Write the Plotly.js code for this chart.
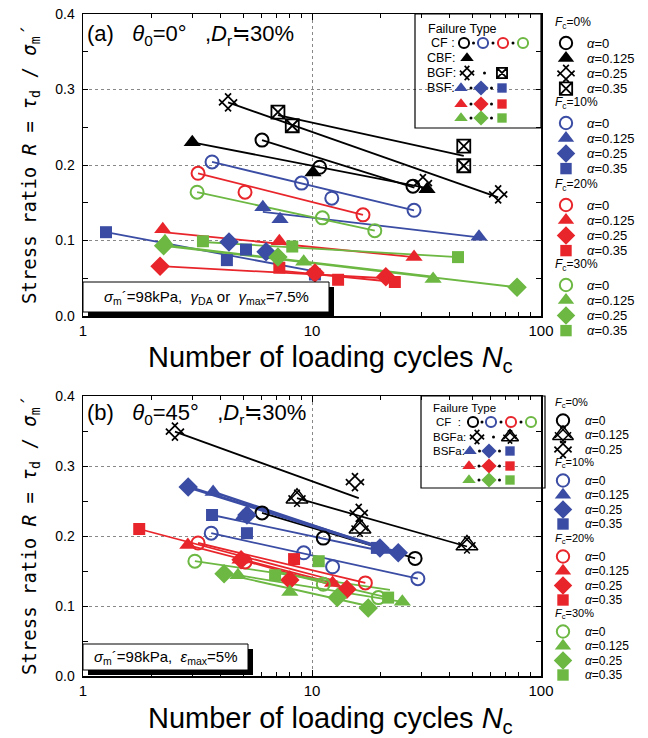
<!DOCTYPE html>
<html><head><meta charset="utf-8">
<script src="https://cdn.plot.ly/plotly-3.0.1.min.js"></script>
<style>html,body{margin:0;padding:0;background:#fff}#chart{width:648px;height:738px}</style>
</head><body><div id="chart"></div>
<script>
// ================= DATA =================
// Panel (a): theta0 = 0 deg. N = number of loading cycles, R = stress ratio
// Fc = 0 %
const aF0a0N = [6.05, 10.8, 27.6],  aF0a0R = [0.233, 0.197, 0.172];
const aF0a0FitN = [6.05, 28],       aF0a0FitR = [0.233, 0.170];
const aF0a1N = [3.0, 10.1, 31.8],   aF0a1R = [0.230, 0.190, 0.168];
const aF0a1FitN = [3.0, 31],        aF0a1FitR = [0.230, 0.170];
const aF0a2N = [4.3, 30.5, 65],     aF0a2R = [0.283, 0.176, 0.161];
const aF0a2FitN = [4.3, 65],        aF0a2FitR = [0.283, 0.157];
const aF0a3N = [7.1, 8.2, 46, 46],  aF0a3R = [0.270, 0.252, 0.225, 0.199];
const aF0a3FitN = [7.1, 46],        aF0a3FitR = [0.266, 0.212];
// Fc = 10 %
const aF10a0N = [3.66, 9.0, 12.2, 27.9], aF10a0R = [0.204, 0.176, 0.156, 0.140];
const aF10a0FitN = [3.66, 27.9],         aF10a0FitR = [0.204, 0.140];
const aF10a1N = [6.1, 7.25, 53.6],       aF10a1R = [0.144, 0.128, 0.105];
const aF10a1FitN = [6.1, 53.6],          aF10a1FitR = [0.138, 0.104];
const aF10a2N = [4.34, 6.3],             aF10a2R = [0.098, 0.085];
const aF10a3N = [1.26, 4.25, 5.15, 10.3], aF10a3R = [0.111, 0.074, 0.088, 0.055];
const aF10a3FitN = [1.26, 10.3],         aF10a3FitR = [0.111, 0.059];
// Fc = 20 %
const aF20a0N = [3.18, 5.1, 16.7],  aF20a0R = [0.189, 0.164, 0.134];
const aF20a0FitN = [3.18, 16.7],    aF20a0FitR = [0.189, 0.134];
const aF20a1N = [2.23, 7.2, 27.9],  aF20a1R = [0.115, 0.099, 0.078];
const aF20a1FitN = [2.23, 27.9],    aF20a1FitR = [0.111, 0.078];
const aF20a2N = [2.17, 10.3, 21],   aF20a2R = [0.066, 0.057, 0.052];
const aF20a2FitN = [2.17, 21],      aF20a2FitR = [0.066, 0.050];
const aF20a3N = [7.2, 13, 23],      aF20a3R = [0.064, 0.048, 0.045];
const aF20a3FitN = [7.2, 23],       aF20a3FitR = [0.060, 0.045];
// Fc = 30 %
const aF30a0N = [3.15, 11.1, 18.8], aF30a0R = [0.164, 0.130, 0.113];
const aF30a0FitN = [3.15, 18.8],    aF30a0FitR = [0.164, 0.113];
const aF30a1N = [2.28, 9.2, 33.8],  aF30a1R = [0.099, 0.072, 0.049];
const aF30a1FitN = [2.28, 33.8],    aF30a1FitR = [0.094, 0.052];
const aF30a2N = [2.25, 7.1, 78.6],  aF30a2R = [0.093, 0.078, 0.038];
const aF30a2FitN = [2.25, 78.6],    aF30a2FitR = [0.093, 0.038];
const aF30a3N = [3.34, 8.2, 43.4],  aF30a3R = [0.099, 0.092, 0.078];
const aF30a3FitN = [3.34, 43.4],    aF30a3FitR = [0.098, 0.078];

// Panel (b): theta0 = 45 deg
// Fc = 0 %
const bF0a0N = [6.05, 11.2, 28.2],  bF0a0R = [0.233, 0.197, 0.168];
const bF0a0FitN = [6.05, 28.2],     bF0a0FitR = [0.233, 0.168];
const bF0a1N = [8.6, 16.2, 47.5],   bF0a1R = [0.254, 0.211, 0.187];
const bF0a1FitN = [8.6, 47.5],      bF0a1FitR = [0.254, 0.185];
const bF0a2N = [2.52, 15.4, 16.0],  bF0a2R = [0.349, 0.277, 0.233];
const bF0a2FitN = [2.52, 16],       bF0a2FitR = [0.349, 0.254];
// Fc = 10 %
const bF10a0N = [3.63, 9.2, 12.3, 29], bF10a0R = [0.204, 0.176, 0.156, 0.139];
const bF10a0FitN = [3.63, 29],         bF10a0FitR = [0.204, 0.139];
const bF10a1N = [3.7, 5.0, 20.5],      bF10a1R = [0.263, 0.228, 0.180];
const bF10a1FitN = [3.7, 23],          bF10a1FitR = [0.263, 0.176];
const bF10a2N = [2.88, 5.2, 19.8, 23.8], bF10a2R = [0.270, 0.230, 0.183, 0.176];
const bF10a2FitN = [2.88, 23.8],       bF10a2FitR = [0.270, 0.176];
const bF10a3N = [3.66, 5.2, 19.2],     bF10a3R = [0.230, 0.204, 0.183];
const bF10a3FitN = [3.66, 19.2],       bF10a3FitR = [0.230, 0.180];
// Fc = 20 %
const bF20a0N = [3.18, 5.1, 17.1],  bF20a0R = [0.190, 0.163, 0.133];
const bF20a0FitN = [3.18, 17.1],    bF20a0FitR = [0.190, 0.133];
const bF20a1N = [2.87, 4.85, 12.3], bF20a1R = [0.187, 0.166, 0.133];
const bF20a1FitN = [2.87, 12.3],    bF20a1FitR = [0.187, 0.133];
const bF20a2N = [4.9, 8.0, 14.2],   bF20a2R = [0.166, 0.137, 0.124];
const bF20a2FitN = [4.9, 14.2],     bF20a2FitR = [0.166, 0.124];
const bF20a3N = [1.76, 8.35],       bF20a3R = [0.210, 0.167];
const bF20a3FitN = [1.76, 13],      bF20a3FitR = [0.210, 0.135];
// Fc = 30 %
const bF30a0N = [3.08, 11.2, 19.5], bF30a0R = [0.164, 0.131, 0.112];
const bF30a0FitN = [3.08, 21.9],    bF30a0FitR = [0.164, 0.123];
const bF30a1N = [4.75, 8.0, 24.8],  bF30a1R = [0.144, 0.120, 0.106];
const bF30a1FitN = [4.75, 24.8],    bF30a1FitR = [0.144, 0.106];
const bF30a2N = [4.13, 12.9, 17.6], bF30a2R = [0.146, 0.112, 0.097];
const bF30a2FitN = [4.13, 17.6],    bF30a2FitR = [0.146, 0.100];
const bF30a3N = [6.9, 10.7, 21.5],  bF30a3R = [0.144, 0.164, 0.112];
const bF30a3FitN = [6.9, 21.5],     bF30a3FitR = [0.150, 0.112];

// Labels
const FC_LABELS = ['0%', '10%', '20%', '30%'];
const ALPHA_LABELS = ['0', '0.125', '0.25', '0.35'];
const X_TICKS = [1, 10, 100];
const Y_TICKS = [0, 0.1, 0.2, 0.3, 0.4];

// ================= STYLE / LAYOUT =================
const BLACK = '#000000', BLUE = '#3a4ca3', RED = '#e8252b', GREEN = '#6cb843';
const W = 648, H = 738;
const PL = 83, PR = 541;
const A_TOP = 14, A_BOT = 316, B_TOP = 396, B_BOT = 676;
const FONT = 'Liberation Sans, Arial, sans-serif';
const TFONT = 'Liberation Sans, Arial, sans-serif';

const SYM = {
  circle:   [{symbol: 'circle-open', size: 13, lw: 2}],
  tri:      [{symbol: 'triangle-up', size: 15, lw: 0}],
  dia:      [{symbol: 'diamond', size: 15, lw: 0}],
  sq:       [{symbol: 'square', size: 12, lw: 0}],
  hatch:    [{symbol: 'hash-open', size: 17, lw: 1.7, angle: 45}],
  sqx:      [{symbol: 'square-x-open', size: 13, lw: 1.8}],
  hatchTri: [{symbol: 'hash-open', size: 16, lw: 1.5, angle: 45}, {symbol: 'triangle-up-open', size: 19, lw: 1.5}]
};

const seriesA = [
  {N: aF0a0N, R: aF0a0R, fN: aF0a0FitN, fR: aF0a0FitR, c: BLACK, s: 'circle'},
  {N: aF0a1N, R: aF0a1R, fN: aF0a1FitN, fR: aF0a1FitR, c: BLACK, s: 'tri'},
  {N: aF0a2N, R: aF0a2R, fN: aF0a2FitN, fR: aF0a2FitR, c: BLACK, s: 'hatch'},
  {N: aF0a3N, R: aF0a3R, fN: aF0a3FitN, fR: aF0a3FitR, c: BLACK, s: 'sqx'},
  {N: aF10a0N, R: aF10a0R, fN: aF10a0FitN, fR: aF10a0FitR, c: BLUE, s: 'circle'},
  {N: aF10a1N, R: aF10a1R, fN: aF10a1FitN, fR: aF10a1FitR, c: BLUE, s: 'tri'},
  {N: aF10a2N, R: aF10a2R, c: BLUE, s: 'dia'},
  {N: aF10a3N, R: aF10a3R, fN: aF10a3FitN, fR: aF10a3FitR, c: BLUE, s: 'sq'},
  {N: aF20a0N, R: aF20a0R, fN: aF20a0FitN, fR: aF20a0FitR, c: RED, s: 'circle'},
  {N: aF20a1N, R: aF20a1R, fN: aF20a1FitN, fR: aF20a1FitR, c: RED, s: 'tri'},
  {N: aF20a2N, R: aF20a2R, fN: aF20a2FitN, fR: aF20a2FitR, c: RED, s: 'dia'},
  {N: aF20a3N, R: aF20a3R, fN: aF20a3FitN, fR: aF20a3FitR, c: RED, s: 'sq'},
  {N: aF30a0N, R: aF30a0R, fN: aF30a0FitN, fR: aF30a0FitR, c: GREEN, s: 'circle'},
  {N: aF30a1N, R: aF30a1R, fN: aF30a1FitN, fR: aF30a1FitR, c: GREEN, s: 'tri'},
  {N: aF30a2N, R: aF30a2R, fN: aF30a2FitN, fR: aF30a2FitR, c: GREEN, s: 'dia'},
  {N: aF30a3N, R: aF30a3R, fN: aF30a3FitN, fR: aF30a3FitR, c: GREEN, s: 'sq'}
];
const seriesB = [
  {N: bF0a0N, R: bF0a0R, fN: bF0a0FitN, fR: bF0a0FitR, c: BLACK, s: 'circle'},
  {N: bF0a1N, R: bF0a1R, fN: bF0a1FitN, fR: bF0a1FitR, c: BLACK, s: 'hatchTri'},
  {N: bF0a2N, R: bF0a2R, fN: bF0a2FitN, fR: bF0a2FitR, c: BLACK, s: 'hatch'},
  {N: bF10a0N, R: bF10a0R, fN: bF10a0FitN, fR: bF10a0FitR, c: BLUE, s: 'circle'},
  {N: bF10a1N, R: bF10a1R, fN: bF10a1FitN, fR: bF10a1FitR, c: BLUE, s: 'tri', lw: 2.5},
  {N: bF10a2N, R: bF10a2R, fN: bF10a2FitN, fR: bF10a2FitR, c: BLUE, s: 'dia', lw: 3},
  {N: bF10a3N, R: bF10a3R, fN: bF10a3FitN, fR: bF10a3FitR, c: BLUE, s: 'sq'},
  {N: bF20a0N, R: bF20a0R, fN: bF20a0FitN, fR: bF20a0FitR, c: RED, s: 'circle'},
  {N: bF20a1N, R: bF20a1R, fN: bF20a1FitN, fR: bF20a1FitR, c: RED, s: 'tri'},
  {N: bF20a2N, R: bF20a2R, fN: bF20a2FitN, fR: bF20a2FitR, c: RED, s: 'dia'},
  {N: bF20a3N, R: bF20a3R, fN: bF20a3FitN, fR: bF20a3FitR, c: RED, s: 'sq'},
  {N: bF30a0N, R: bF30a0R, fN: bF30a0FitN, fR: bF30a0FitR, c: GREEN, s: 'circle'},
  {N: bF30a1N, R: bF30a1R, fN: bF30a1FitN, fR: bF30a1FitR, c: GREEN, s: 'tri'},
  {N: bF30a2N, R: bF30a2R, fN: bF30a2FitN, fR: bF30a2FitR, c: GREEN, s: 'dia'},
  {N: bF30a3N, R: bF30a3R, fN: bF30a3FitN, fR: bF30a3FitR, c: GREEN, s: 'sq'}
];

const traces = [];
function markerTraces(x, y, color, symKey, xa, ya, scale) {
  scale = scale || 1;
  SYM[symKey].forEach(m => traces.push({
    type: 'scatter', mode: 'markers', x: x, y: y, xaxis: xa, yaxis: ya,
    hoverinfo: 'skip', showlegend: false, cliponaxis: false,
    marker: {symbol: m.symbol, size: m.size * scale, color: color, angle: m.angle || 0,
             line: {color: color, width: m.lw}}
  }));
}
function addPanel(series, xa, ya) {
  series.forEach(s => { if (s.fN) traces.push({
    type: 'scatter', mode: 'lines', x: s.fN, y: s.fR, xaxis: xa, yaxis: ya,
    hoverinfo: 'skip', showlegend: false, line: {color: s.c, width: s.lw || 1.8}}); });
  series.forEach(s => markerTraces(s.N, s.R, s.c, s.s, xa, ya));
}
addPanel(seriesA, 'x', 'y');
addPanel(seriesB, 'x2', 'y2');

// ---------- side legends (pixel overlay axis x3/y3) ----------
const annotations = [];
const shapes = [];
function txt(x, y, text, size, opts) {
  annotations.push(Object.assign({xref: 'x3', yref: 'y3', x: x, y: y, text: text, showarrow: false,
    xanchor: 'left', yanchor: 'middle', font: {family: FONT, size: size, color: '#000'}}, opts || {}));
}
const COLORS = [BLACK, BLUE, RED, GREEN];
const legA = {hdr: [23, 103, 185, 265], first: 20, step: 15.2, symX: 566, txtX: 585, hdrX: 553, hfs: 12, ifs: 13,
  syms: [['circle', 'tri', 'hatch', 'sqx'], ['circle', 'tri', 'dia', 'sq'], ['circle', 'tri', 'dia', 'sq'], ['circle', 'tri', 'dia', 'sq']]};
const legB = {hdr: [403, 463, 539, 614], first: 17.5, step: 14.5, symX: 563, txtX: 583, hdrX: 553, hfs: 11, ifs: 12,
  syms: [['circle', 'hatchTri', 'hatch'], ['circle', 'tri', 'dia', 'sq'], ['circle', 'tri', 'dia', 'sq'], ['circle', 'tri', 'dia', 'sq']]};
[legA, legB].forEach(L => {
  L.hdr.forEach((hy, g) => {
    txt(L.hdrX, hy, '<i>F</i><sub>c</sub>=' + FC_LABELS[g], L.hfs);
    L.syms[g].forEach((sk, j) => {
      const yy = hy + L.first + j * L.step;
      markerTraces([L.symX], [yy], COLORS[g], sk, 'x3', 'y3', 0.95);
      txt(L.txtX, yy, '<i>α</i>=' + ALPHA_LABELS[j], L.ifs);
    });
  });
});

// ---------- Failure type boxes ----------
const ftA = {box: [415, 14, 541, 128], title: [426, 29], fs: 12.5, rows: [
  {label: 'CF :', lx: 429, y: 43, items: [[464, 'circle', BLACK], [483, 'circle', BLUE], [503, 'circle', RED], [523, 'circle', GREEN]]},
  {label: 'CBF:', lx: 425, y: 58, items: [[467, 'tri', BLACK]]},
  {label: 'BGF:', lx: 425, y: 73, items: [[467, 'hatch', BLACK], [502, 'sqx', BLACK]]},
  {label: 'BSF:', lx: 425, y: 88, items: [[461, 'tri', BLUE], [481, 'dia', BLUE], [502, 'sq', BLUE]]},
  {label: '', lx: 425, y: 104, items: [[461, 'tri', RED], [481, 'dia', RED], [502, 'sq', RED]]},
  {label: '', lx: 425, y: 118, items: [[461, 'tri', GREEN], [481, 'dia', GREEN], [502, 'sq', GREEN]]}
]};
const ftB = {box: [421, 396, 545, 488], title: [431, 408], fs: 11.5, rows: [
  {label: 'CF  :', lx: 434, y: 422, items: [[473, 'circle', BLACK], [491, 'circle', BLUE], [511, 'circle', RED], [531, 'circle', GREEN]]},
  {label: 'BGFa:', lx: 431, y: 437, items: [[477, 'hatch', BLACK], [510, 'hatchTri', BLACK]]},
  {label: 'BSFa:', lx: 431, y: 451, items: [[470, 'tri', BLUE], [489, 'dia', BLUE], [510, 'sq', BLUE]]},
  {label: '', lx: 431, y: 466, items: [[469, 'tri', RED], [489, 'dia', RED], [510, 'sq', RED]]},
  {label: '', lx: 431, y: 480, items: [[469, 'tri', GREEN], [489, 'dia', GREEN], [510, 'sq', GREEN]]}
]};
[ftA, ftB].forEach(F => {
  shapes.push({type: 'rect', xref: 'x3', yref: 'y3', x0: F.box[0], y0: F.box[1], x1: F.box[2], y1: F.box[3],
    line: {color: '#000', width: 1.2}, fillcolor: 'rgba(0,0,0,0)', layer: 'above'});
  txt(F.title[0], F.title[1], 'Failure Type', F.fs);
  F.rows.forEach(r => {
    if (r.label) txt(r.lx, r.y, r.label, F.fs);
    r.items.forEach((it, k) => {
      markerTraces([it[0]], [r.y], it[2], it[1], 'x3', 'y3', 0.78);
      if (k > 0) {
        const mx = (r.items[k - 1][0] + it[0]) / 2;
        traces.push({type: 'scatter', mode: 'markers', x: [mx], y: [r.y], xaxis: 'x3', yaxis: 'y3',
          hoverinfo: 'skip', showlegend: false, marker: {symbol: 'circle', size: 3, color: '#000'}});
      }
    });
  });
});

// ---------- condition boxes ----------
function condBox(x0, y0, x1, y1, text) {
  shapes.push({type: 'rect', xref: 'x3', yref: 'y3', x0: x0 + 5, y0: y0 + 5, x1: x1 + 5, y1: y1 + 5,
    line: {width: 0}, fillcolor: '#000', layer: 'above'});
  shapes.push({type: 'rect', xref: 'x3', yref: 'y3', x0: x0, y0: y0, x1: x1, y1: y1,
    line: {color: '#000', width: 1}, fillcolor: '#fff', layer: 'above'});
  txt((x0 + x1) / 2, (y0 + y1) / 2, text, 15, {xanchor: 'center'});
}
condBox(83, 282, 329, 312, '<i>σ</i><sub>m</sub>´=98kPa,  <i>γ</i><sub>DA</sub> or  <i>γ</i><sub>max</sub>=7.5%');
condBox(83, 644, 248, 670, '<i>σ</i><sub>m</sub>´=98kPa,  <i>ε</i><sub>max</sub>=5%');

// ---------- panel labels & axis titles ----------
const PFONT = 'Liberation Sans, Noto Sans CJK JP, sans-serif';
annotations.push({xref: 'x3', yref: 'y3', x: 85, y: 35, xanchor: 'left', yanchor: 'middle', showarrow: false,
  text: '(a)   <i>θ</i><sub>0</sub>=0°   ,<i>D</i><sub>r</sub>≒30%', font: {family: PFONT, size: 22, color: '#000'}});
annotations.push({xref: 'x3', yref: 'y3', x: 85, y: 414, xanchor: 'left', yanchor: 'middle', showarrow: false,
  text: '(b)   <i>θ</i><sub>0</sub>=45°   ,<i>D</i><sub>r</sub>≒30%', font: {family: PFONT, size: 22, color: '#000'}});
const XT = 'Number of loading cycles <i>N</i><sub>c</sub>';
const YT = 'Stress ratio <i>R</i> = <i>τ</i><sub>d</sub> / <i>σ</i><sub>m</sub>´';
[[359, 165], [720, 536]].forEach(p => {
  annotations.push({xref: 'x3', yref: 'y3', x: 330, y: p[0], xanchor: 'center', yanchor: 'middle', showarrow: false,
    text: XT, font: {family: TFONT, size: 29, color: '#000'}});
  annotations.push({xref: 'x3', yref: 'y3', x: 30, y: p[1], xanchor: 'center', yanchor: 'middle', showarrow: false,
    textangle: -90, text: YT, font: {family: 'DejaVu Sans Mono, monospace', size: 19, color: '#000'}});
});

// ---------- axes ----------
function xAxis(anchor) {
  return {type: 'log', range: [0, 2], domain: [PL / W, PR / W], anchor: anchor,
    tickvals: X_TICKS, ticktext: X_TICKS.map(String), ticks: 'inside', ticklen: 6, tickcolor: '#000',
    minor: {ticks: 'inside', ticklen: 4, dtick: 'D1', tickcolor: '#000', showgrid: false},
    showline: true, linecolor: '#000', linewidth: 1.5, mirror: 'ticks',
    showgrid: true, gridcolor: '#888', griddash: 'dot', gridwidth: 1, zeroline: false,
    tickfont: {family: FONT, size: 15, color: '#000'}, fixedrange: true};
}
function yAxis(anchor, top, bot) {
  return {range: [0, 0.4], domain: [1 - bot / H, 1 - top / H], anchor: anchor,
    tickvals: Y_TICKS, ticktext: Y_TICKS.map(v => v.toFixed(1)), ticks: 'inside', ticklen: 5, tickcolor: '#000',
    minor: {ticks: 'inside', ticklen: 5, dtick: 0.05, tickcolor: '#000', showgrid: false},
    showline: true, linecolor: '#000', linewidth: 1.5, mirror: 'ticks',
    showgrid: true, gridcolor: '#888', griddash: 'dot', gridwidth: 1, zeroline: false,
    ticklabelstandoff: 4,
    tickfont: {family: FONT, size: 14, color: '#000'}, fixedrange: true};
}

const layout = {
  width: W, height: H, margin: {l: 0, r: 0, t: 0, b: 0},
  paper_bgcolor: '#fff', plot_bgcolor: 'rgba(0,0,0,0)', showlegend: false,
  xaxis: xAxis('y'), yaxis: yAxis('x', A_TOP, A_BOT),
  xaxis2: xAxis('y2'), yaxis2: yAxis('x2', B_TOP, B_BOT),
  xaxis3: {domain: [0, 1], range: [0, W], anchor: 'y3', visible: false, fixedrange: true},
  yaxis3: {domain: [0, 1], range: [H, 0], anchor: 'x3', visible: false, fixedrange: true},
  annotations: annotations, shapes: shapes
};
Plotly.newPlot('chart', traces, layout, {displayModeBar: false, staticPlot: true});
</script></body></html>
